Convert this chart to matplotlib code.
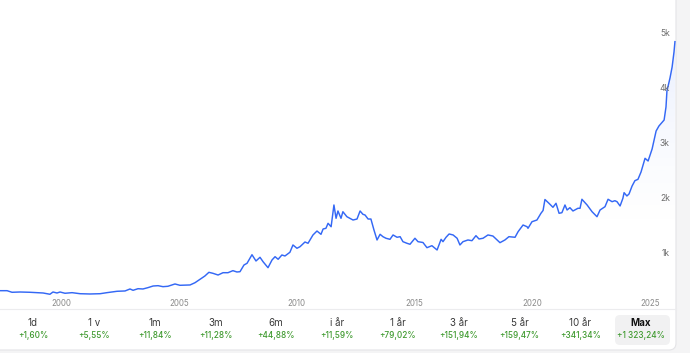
import matplotlib
matplotlib.use("Agg")
import matplotlib.pyplot as plt
import numpy as np
from matplotlib.patches import FancyBboxPatch
from matplotlib.colors import LinearSegmentedColormap

plt.rcParams.update({"font.family": ["Inter", "DejaVu Sans"]})

# price history
years = [1997.41, 1997.71, 1997.92, 1998.26, 1998.68, 1999.24, 1999.53, 1999.66, 1999.83, 1999.96,
         2000.17, 2000.47, 2000.81, 2001.23, 2001.66, 2001.95, 2002.38, 2002.72, 2002.93, 2003.06,
         2003.27, 2003.48, 2003.69, 2003.91, 2004.12, 2004.33, 2004.54, 2004.84, 2005.05, 2005.48,
         2005.69, 2005.90, 2006.11, 2006.28, 2006.45, 2006.67, 2006.88, 2007.09, 2007.30, 2007.47,
         2007.60, 2007.77, 2007.90, 2008.11, 2008.28, 2008.45, 2008.58, 2008.79, 2008.96, 2009.09,
         2009.22, 2009.38, 2009.51, 2009.72, 2009.85, 2010.02, 2010.15, 2010.36, 2010.49, 2010.70,
         2010.87, 2011.04, 2011.13, 2011.25, 2011.34, 2011.47, 2011.59, 2011.68, 2011.76, 2011.89,
         2011.97, 2012.14, 2012.40, 2012.57, 2012.70, 2012.82, 2012.91, 2013.04, 2013.16, 2013.29,
         2013.42, 2013.55, 2013.67, 2013.80, 2013.97, 2014.10, 2014.27, 2014.40, 2014.52, 2014.69,
         2014.82, 2015.03, 2015.16, 2015.37, 2015.54, 2015.75, 2015.97, 2016.14, 2016.22, 2016.35,
         2016.48, 2016.65, 2016.82, 2016.94, 2017.07, 2017.28, 2017.45, 2017.62, 2017.75, 2017.92,
         2018.13, 2018.34, 2018.64, 2018.85, 2019.02, 2019.28, 2019.41, 2019.62, 2019.79, 2019.83,
         2020.00, 2020.21, 2020.38, 2020.47, 2020.55, 2020.72, 2020.89, 2021.02, 2021.15, 2021.27,
         2021.40, 2021.49, 2021.61, 2021.74, 2021.95, 2022.04, 2022.12, 2022.34, 2022.55, 2022.76,
         2022.89, 2023.10, 2023.23, 2023.40, 2023.52, 2023.61, 2023.74, 2023.86, 2023.91, 2024.03,
         2024.12, 2024.25, 2024.37, 2024.50, 2024.63, 2024.80, 2024.93, 2025.10, 2025.27, 2025.39,
         2025.61, 2025.69, 2025.73, 2025.86, 2025.95, 2026.03, 2026.07]
values = [320, 320, 291, 296, 291, 278, 255, 296, 278, 296,
          273, 284, 265, 260, 265, 284, 309, 315, 351, 327,
          356, 351, 375, 405, 411, 393, 400, 442, 418, 424,
          465, 527, 587, 654, 636, 605, 647, 647, 684, 660,
          665, 787, 818, 974, 860, 927, 847, 738, 878, 938,
          891, 969, 951, 1018, 1151, 1091, 1120, 1205, 1182, 1333,
          1405, 1345, 1442, 1454, 1545, 1483, 1878, 1636, 1769, 1636,
          1756, 1665, 1605, 1623, 1769, 1709, 1696, 1623, 1623, 1423,
          1242, 1345, 1302, 1273, 1254, 1333, 1291, 1302, 1211, 1182,
          1164, 1273, 1211, 1196, 1102, 1138, 1060, 1254, 1211, 1291,
          1351, 1333, 1273, 1151, 1211, 1242, 1229, 1320, 1260, 1273,
          1333, 1314, 1193, 1242, 1302, 1291, 1393, 1514, 1483, 1454,
          1574, 1605, 1727, 1778, 1978, 1909, 1836, 1909, 1727, 1738,
          1878, 1787, 1829, 1769, 1818, 1818, 1982, 1878, 1756, 1665,
          1787, 1847, 1982, 1938, 1956, 1938, 1860, 2000, 2102, 2042,
          2078, 2223, 2320, 2345, 2478, 2727, 2678, 2896, 3223, 3314,
          3423, 3660, 3950, 4187, 4387, 4660, 4847]

year_ticks = [2000, 2005, 2010, 2015, 2020, 2025]
value_ticks = [1000, 2000, 3000, 4000, 5000]
value_labels = ["1k", "2k", "3k", "4k", "5k"]

periods = ["1d", "1 v", "1m", "3m", "6m", "i år", "1 år", "3 år", "5 år", "10 år", "Max"]
returns = ["+1,60%", "+5,55%", "+11,84%", "+11,28%", "+44,88%", "+11,59%", "+79,02%",
           "+151,94%", "+159,47%", "+341,34%", "+1 323,24%"]

LINE = "#3468f5"
W, H = 690, 353

fig = plt.figure(figsize=(W / 100, H / 100), dpi=100, facecolor="#f4f4f5")

# pixel overlay for the card / stats row
ov = fig.add_axes([0, 0, 1, 1], zorder=0)
ov.set_xlim(0, W)
ov.set_ylim(H, 0)
ov.axis("off")
ov.add_patch(FancyBboxPatch((-10, -10), 686, 360, boxstyle="round,pad=0,rounding_size=7",
                            fc="white", ec="#e4e4e7", lw=0.8))
ov.plot([0, 676], [309, 309], color="#ececee", lw=0.8)
ov.add_patch(FancyBboxPatch((615, 315), 55, 30, boxstyle="round,pad=0,rounding_size=5",
                            fc="#f1f1f2", ec="none"))
for i, (p, r) in enumerate(zip(periods, returns)):
    cx = 33 + 60.8 * i
    last = p == "Max"
    ov.text(cx, 323, p, ha="center", va="center", fontsize=7,
            color="#111111" if last else "#3a3a3a", weight="bold" if last else "normal")
    ov.text(cx, 335.5, r, ha="center", va="center", fontsize=5.9, color="#3f9a2f",
            weight="medium")

# chart
ax = fig.add_axes([0, (H - 309) / H, 676 / W, 309 / H], zorder=1)
ax.patch.set_alpha(0)
for s in ax.spines.values():
    s.set_visible(False)
ax.set_xticks([])
ax.set_yticks([])

x0, x1 = 1997.41, 1997.41 + 676 / 23.55
y0, y1 = -13, 5605

grad = (np.clip(np.linspace(-0.25, 1, 256), 0, None) ** 1.6).reshape(-1, 1)
cmap = LinearSegmentedColormap.from_list("fade", [(0.2, 0.41, 0.96, 0.0), (0.2, 0.41, 0.96, 0.14)])
im = ax.imshow(grad, cmap=cmap, aspect="auto", extent=[x0, x1, y0, y1], origin="lower", zorder=1,
               vmin=0, vmax=grad.max())
poly = ax.fill_between(years, values, y0, color="none", lw=0)
im.set_clip_path(poly.get_paths()[0], transform=ax.transData)

ax.plot(years, values, color=LINE, lw=1.05, zorder=3, solid_joinstyle="round")

ax.set_xlim(x0, x1)
ax.set_ylim(y0, y1)

for yr in year_ticks:
    ax.text(yr, 6 / 309, str(yr), transform=ax.get_xaxis_transform(), ha="center", va="center",
            fontsize=5.7, color="#8a8a8a")
for v, lab in zip(value_ticks, value_labels):
    ax.text(670 / 676, v, lab, transform=ax.get_yaxis_transform(), ha="right", va="center",
            fontsize=6.2, color="#6e6e6e", zorder=4)

fig.savefig("out.png", dpi=100, facecolor=fig.get_facecolor())
